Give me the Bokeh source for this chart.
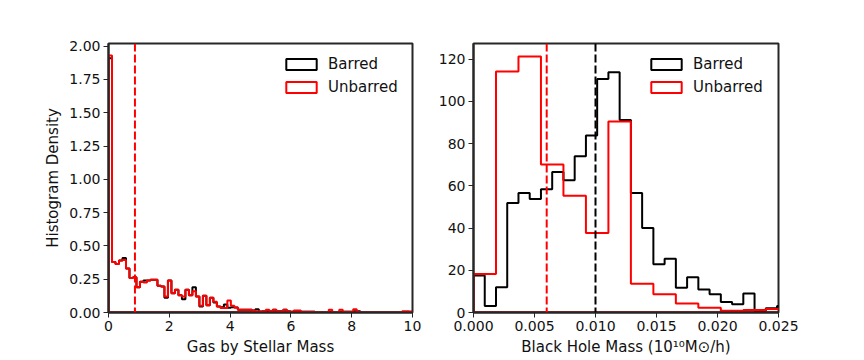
import numpy as np
from bokeh.plotting import figure
from bokeh.layouts import row
from bokeh.models import (FixedTicker, PrintfTickFormatter, Legend, LegendItem,
                          Range1d, Span)
from bokeh.embed import file_html
from bokeh.resources import INLINE

# ---------------- data ----------------
series_names = ["Barred", "Unbarred"]

# Left panel: gas-to-stellar-mass histogram density (bins of equal width from 0)
gas_bin_width = 0.115
gas_barred = [
    1.91, 0.38, 0.365, 0.39, 0.41, 0.33, 0.26, 0.265, 0.19, 0.23,
    0.24, 0.24, 0.245, 0.245, 0.20, 0.195, 0.11, 0.24, 0.145, 0.17,
    0.13, 0.10, 0.17, 0.13, 0.19, 0.12, 0.045, 0.125, 0.055, 0.11,
    0.075, 0.045, 0.04, 0.06, 0.035, 0.04, 0.037, 0.02, 0.02, 0.02,
    0.02, 0.015, 0.025, 0.005, 0.01, 0.01, 0.01, 0.02, 0.01, 0.01,
    0.02, 0.01, 0.005, 0.01, 0.01, 0.005, 0.005, 0.005, 0.005, 0.0,
    0.0, 0.0, 0.0, 0.005, 0.0, 0.0, 0.005, 0.005, 0.005, 0.005,
    0.01, 0.01, 0.0, 0.0, 0.0, 0.0, 0.0, 0.0, 0.0, 0.0,
    0.0, 0.0, 0.0, 0.0, 0.0, 0.0, 0.005]
gas_unbarred = [
    1.93, 0.38, 0.365, 0.39, 0.395, 0.33, 0.26, 0.265, 0.19, 0.23,
    0.225, 0.24, 0.245, 0.245, 0.20, 0.195, 0.12, 0.24, 0.145, 0.17,
    0.13, 0.12, 0.17, 0.13, 0.16, 0.12, 0.05, 0.125, 0.055, 0.11,
    0.08, 0.045, 0.033, 0.033, 0.09, 0.05, 0.037, 0.02, 0.02, 0.02,
    0.02, 0.015, 0.01, 0.01, 0.01, 0.02, 0.01, 0.02, 0.01, 0.01,
    0.02, 0.01, 0.005, 0.015, 0.015, 0.005, 0.005, 0.005, 0.005, 0.0,
    0.0, 0.0, 0.0, 0.02, 0.0, 0.0, 0.02, 0.005, 0.005, 0.005,
    0.025, 0.005, 0.0, 0.0, 0.0, 0.0, 0.0, 0.0, 0.0, 0.0,
    0.0, 0.0, 0.0, 0.0, 0.01, 0.01, 0.005]
gas_median = 0.87

# Right panel: black hole mass histogram density
bh_bin_width_barred = 0.0009215
bh_bin_width_unbarred = 0.001843
bh_barred = [17.5, 3.1, 12.0, 51.9, 56.6, 53.8, 58.4, 66.5, 62.6, 74.0,
             83.8, 110.6, 113.8, 91.2, 56.6, 40.0, 22.9, 25.4, 11.7, 16.7,
             10.9, 8.6, 5.0, 3.9, 9.0, 0.8, 2.0, 3.1]
bh_unbarred = [18.2, 114.1, 121.3, 70.1, 55.3, 37.6, 90.4, 13.6, 8.6, 4.3,
               2.3, 0.8, 1.2, 1.7]
bh_median_barred = 0.010
bh_median_unbarred = 0.006

# axes / ticks
gas_xticks = [0, 2, 4, 6, 8, 10]
gas_yticks = [0.0, 0.25, 0.5, 0.75, 1.0, 1.25, 1.5, 1.75, 2.0]
bh_xticks = [0.0, 0.005, 0.010, 0.015, 0.020, 0.025]
bh_yticks = [0, 20, 40, 60, 80, 100, 120]

FONT = "DejaVu Sans"
SPINE = "#262626"


def step_outline(width, vals):
    v = np.asarray(vals, dtype=float)
    edges = np.arange(len(v) + 1) * width
    xs = np.repeat(edges, 2)
    ys = np.concatenate([[0.0], np.repeat(v, 2), [0.0]])
    return xs, ys


def style(p):
    p.outline_line_color = SPINE
    p.outline_line_width = 2
    p.xgrid.visible = False
    p.ygrid.visible = False
    for ax in (p.xaxis[0], p.yaxis[0]):
        ax.axis_line_color = SPINE
        ax.axis_line_width = 2
        ax.major_tick_out = 5
        ax.major_tick_in = 0
        ax.minor_tick_out = 0
        ax.minor_tick_in = 0
        ax.major_tick_line_color = SPINE
        ax.major_tick_line_width = 1
        ax.major_label_text_font = FONT
        ax.major_label_text_font_size = "14px"
        ax.major_label_text_color = "#111111"
        ax.major_label_standoff = 3
        ax.axis_label_text_font = FONT
        ax.axis_label_text_font_size = "15px"
        ax.axis_label_text_font_style = "normal"
        ax.axis_label_text_color = "#111111"
        ax.axis_label_standoff = 4


def draw_hist(p, width, vals, color):
    xs, ys = step_outline(width, vals)
    return p.patch(xs, ys, fill_alpha=0, line_color=color, line_width=2)


def add_legend(p, rb, ru):
    leg = Legend(items=[LegendItem(label=series_names[0], renderers=[rb]),
                        LegendItem(label=series_names[1], renderers=[ru])],
                 location=(174, 216), orientation="vertical",
                 border_line_color=None, background_fill_alpha=0,
                 glyph_width=38, glyph_height=14, label_height=14,
                 label_standoff=8, spacing=5, padding=0, margin=0,
                 label_text_font=FONT, label_text_font_size="15px",
                 label_text_color="#111111")
    p.add_layout(leg)


# ---------------- left panel ----------------
p1 = figure(width=422, height=358, output_backend="svg", toolbar_location=None,
            x_range=Range1d(0, 10), y_range=Range1d(0, 2.02),
            min_border_left=108, min_border_right=10,
            min_border_top=43, min_border_bottom=44,
            background_fill_color="white", border_fill_color="white")
style(p1)
p1.xaxis.axis_label = "Gas by Stellar Mass"
p1.yaxis.axis_label = "Histogram Density"
p1.xaxis.ticker = FixedTicker(ticks=gas_xticks)
p1.yaxis.ticker = FixedTicker(ticks=gas_yticks)
p1.xaxis.formatter = PrintfTickFormatter(format="%d")
p1.yaxis.formatter = PrintfTickFormatter(format="%.2f")

rb1 = draw_hist(p1, gas_bin_width, gas_barred, "black")
ru1 = draw_hist(p1, gas_bin_width, gas_unbarred, "red")
p1.add_layout(Span(location=gas_median, dimension="height", line_color="red",
                   line_width=2, line_dash="8 3"))
add_legend(p1, rb1, ru1)

# ---------------- right panel ----------------
p2 = figure(width=436, height=358, output_backend="svg", toolbar_location=None,
            x_range=Range1d(0, 0.025), y_range=Range1d(0, 127.4),
            min_border_left=51, min_border_right=80,
            min_border_top=43, min_border_bottom=44,
            background_fill_color="white", border_fill_color="white")
style(p2)
p2.xaxis.axis_label = "Black Hole Mass (10\u00b9\u2070M\u2299/h)"
p2.xaxis.ticker = FixedTicker(ticks=bh_xticks)
p2.yaxis.ticker = FixedTicker(ticks=bh_yticks)
p2.xaxis.formatter = PrintfTickFormatter(format="%.3f")
p2.yaxis.formatter = PrintfTickFormatter(format="%d")

rb2 = draw_hist(p2, bh_bin_width_barred, bh_barred, "black")
ru2 = draw_hist(p2, bh_bin_width_unbarred, bh_unbarred, "red")
p2.add_layout(Span(location=bh_median_unbarred, dimension="height",
                   line_color="red", line_width=2, line_dash="8 3"))
p2.add_layout(Span(location=bh_median_barred, dimension="height",
                   line_color="black", line_width=2, line_dash="8 3"))
add_legend(p2, rb2, ru2)

layout = row(p1, p2)
open("out.html", "w").write(file_html(layout, INLINE))
